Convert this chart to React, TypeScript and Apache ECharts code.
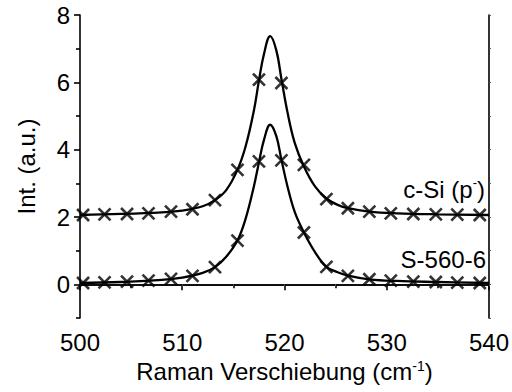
import React, { useEffect, useRef } from "react";
import * as echarts from "echarts";

// Measured points (x markers)
const pointX = [500.3, 502.4, 504.6, 506.7, 508.9, 511.0, 513.2, 515.4, 517.5, 519.7, 521.9, 524.1, 526.2, 528.3, 530.4, 532.6, 534.8, 536.9, 539.1];
const cSiPoints = [2.06, 2.08, 2.09, 2.11, 2.16, 2.23, 2.50, 3.40, 6.08, 5.98, 3.55, 2.53, 2.26, 2.16, 2.11, 2.09, 2.08, 2.07, 2.06];
const s560Points = [0.04, 0.06, 0.08, 0.11, 0.16, 0.25, 0.51, 1.30, 3.65, 3.68, 1.54, 0.52, 0.25, 0.15, 0.11, 0.08, 0.07, 0.05, 0.04];

// Fit curves
const curveX = [500, 504, 508, 510, 512, 513.2, 514.3, 515.4, 516.2, 517, 517.5, 518, 518.6, 519.2, 519.7, 520.3, 521, 521.9, 523, 524.1, 525.2, 526.2, 528.3, 531, 535, 540];
const cSiCurve = [2.06, 2.09, 2.14, 2.19, 2.32, 2.50, 2.80, 3.40, 4.10, 5.15, 6.05, 6.85, 7.37, 6.95, 6.10, 5.10, 4.20, 3.50, 2.90, 2.55, 2.36, 2.26, 2.16, 2.11, 2.08, 2.06];
const s560Curve = [0.04, 0.07, 0.13, 0.20, 0.34, 0.51, 0.82, 1.30, 1.95, 2.90, 3.62, 4.30, 4.74, 4.40, 3.70, 2.90, 2.15, 1.54, 0.95, 0.52, 0.36, 0.26, 0.15, 0.10, 0.07, 0.04];

const yMajorTicks = [0, 2, 4, 6, 8];
const yMinorTicks = [-1, 1, 3, 5, 7];

const labelCSi = "c-Si (p{sup|-})";
const labelS560 = "S-560-6";
const xTitle = "Raman Verschiebung (cm{sup|-1})";
const yTitle = "Int. (a.u.)";

const FONT = "Liberation Sans, Arial, sans-serif";
const FS = 24;

export default function App() {
  const ref = useRef<HTMLDivElement>(null);
  useEffect(() => {
    if (!ref.current) return;
    const chart = echarts.init(ref.current, undefined, { renderer: "svg" });
    const pair = (xs: number[], ys: number[]) => xs.map((x, i) => [x, ys[i]]);
    const lineCommon = { color: "#000", width: 1.6 };
    const crossSymbol = "path://M0,0L10,10M0,10L10,0";
    const markerSeries = (data: number[][]) => ({
      type: "scatter",
      data,
      symbol: crossSymbol,
      symbolSize: 12,
      itemStyle: { color: "rgba(0,0,0,0)", borderColor: "#000", borderWidth: 2.6 },
      z: 3,
    });
    const curveSeries = (data: number[][]) => ({
      type: "line",
      data,
      symbol: "none",
      smooth: 0.4,
      lineStyle: { color: "#000", width: 2.3 },
      z: 2,
    });
    chart.setOption({
      animation: false,
      textStyle: { fontFamily: FONT },
      grid: { left: 80, right: 20, top: 15, bottom: 74 },
      xAxis: [
        {
          type: "value",
          position: "bottom",
          min: 500,
          max: 540,
          interval: 10,
          axisLine: { lineStyle: lineCommon },
          axisTick: { length: 6, lineStyle: lineCommon },
          minorTick: { show: true, splitNumber: 2, length: 4, lineStyle: lineCommon },
          splitLine: { show: false },
          axisLabel: { fontSize: FS, color: "#000", margin: 12, fontFamily: FONT },
          name: xTitle,
          nameLocation: "middle",
          nameGap: 33,
          nameTextStyle: {
            fontSize: FS,
            color: "#000",
            fontFamily: FONT,
            rich: { sup: { fontSize: 14, color: "#000", fontFamily: FONT, padding: [0, 0, 12, 0] } },
          },
        },
        {
          type: "value",
          position: "top",
          min: 500,
          max: 540,
          interval: 5,
          axisLine: { lineStyle: lineCommon },
          axisTick: { inside: true, length: 2, lineStyle: { color: "#555", width: 1 } },
          axisLabel: { show: false },
          splitLine: { show: false },
        },
      ],
      yAxis: [
        {
          type: "value",
          position: "left",
          min: -1,
          max: 8,
          axisLine: { lineStyle: lineCommon },
          axisTick: { length: 6, lineStyle: lineCommon, customValues: yMajorTicks },
          splitLine: { show: false },
          axisLabel: { fontSize: FS, color: "#000", margin: 10, fontFamily: FONT, customValues: yMajorTicks },
          name: yTitle,
          nameLocation: "middle",
          nameGap: 42,
          nameRotate: 90,
          nameTextStyle: { fontSize: FS, color: "#000", fontFamily: FONT },
        },
        {
          type: "value",
          position: "left",
          min: -1,
          max: 8,
          axisLine: { show: false },
          axisTick: { length: 4, lineStyle: lineCommon, customValues: yMinorTicks },
          axisLabel: { show: false },
          splitLine: { show: false },
        },
        {
          type: "value",
          position: "right",
          min: -1,
          max: 8,
          interval: 1,
          axisLine: { lineStyle: lineCommon },
          axisTick: { length: 2, lineStyle: { color: "#555", width: 1 } },
          axisLabel: { show: false },
          splitLine: { show: false },
        },
      ],
      graphic: [
        {
          type: "text",
          x: 485,
          y: 189,
          style: {
            text: labelCSi,
            align: "right",
            verticalAlign: "middle",
            fontSize: FS,
            fontFamily: FONT,
            fill: "#000",
            rich: { sup: { fontSize: 13, fill: "#000", fontFamily: FONT, padding: [0, 0, 13, 0] } },
          },
        },
        {
          type: "text",
          x: 486,
          y: 259,
          style: {
            text: labelS560,
            align: "right",
            verticalAlign: "middle",
            fontSize: FS,
            fontFamily: FONT,
            fill: "#000",
          },
        },
      ],
      series: [
        curveSeries(pair(curveX, cSiCurve)),
        curveSeries(pair(curveX, s560Curve)),
        markerSeries(pair(pointX, cSiPoints)),
        markerSeries(pair(pointX, s560Points)),
      ],
    });
    return () => chart.dispose();
  }, []);
  return <div ref={ref} style={{ width: 512, height: 392, position: "absolute", left: 0, top: 0 }} />;
}
